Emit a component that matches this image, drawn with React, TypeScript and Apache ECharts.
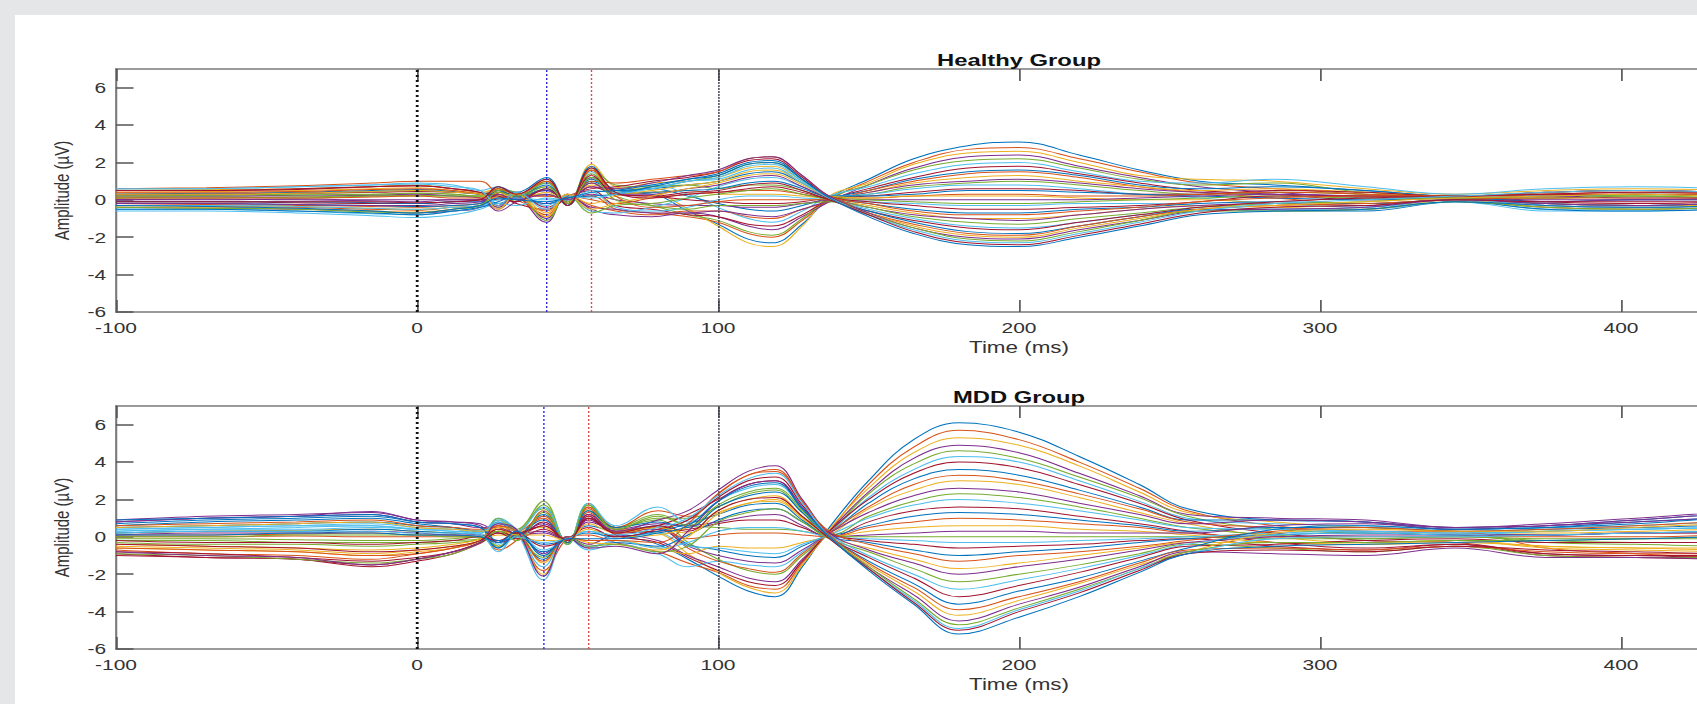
import React, { useEffect, useRef } from "react";
import * as echarts from "echarts";

// ---- Data ----
const TIME_HEALTHY = [-100,-70,-40,-15,0,12,21,27,33,43,50,58,66,78,90,100,110,118,128,137,150,165,183,200,220,240,260,285,315,345,375,405,440,500];
const TIME_MDD = [-100,-70,-40,-15,0,12,21,27,33,42,50,57,66,80,90,100,110,119,128,137,150,165,180,200,220,240,256,285,315,345,375,405,440,500];

const X_TICKS = [-100, 0, 100, 200, 300, 400];
const Y_TICKS = [-6, -4, -2, 0, 2, 4, 6];

const MARKERS_HEALTHY = [0, 43, 58, 100];
const MARKERS_MDD = [0, 42, 57, 100];

const HEALTHY = [
[0.3,0.35,0.4,0.5,0.55,0.45,0.3,0.5,0.1,0.6,-0.1,1.2,0.4,0.3,-0.6,-1.3,-2.1,-2.3,-1.3,0.1,1.1,2.2,2.9,3.1,2.4,1.6,1.0,0.8,0.5,0.2,0.4,0.5,0.4,0.3],
[-0.2,-0.25,-0.3,-0.35,-0.4,-0.3,-0.2,0.3,0.2,-0.8,0.2,0.2,-0.5,-0.7,-0.9,-1.2,-1.8,-2.0,-1.1,0.0,1.0,2.0,2.7,2.8,2.2,1.5,0.9,0.6,0.3,0.1,-0.2,-0.3,-0.2,-0.1],
[0.5,0.55,0.6,0.7,0.8,0.6,0.4,0.6,0.0,1.1,-0.3,1.9,0.7,0.5,-0.5,-1.4,-2.3,-2.5,-1.4,0.2,0.9,1.9,2.5,2.6,2.0,1.3,1.1,1.0,0.6,0.3,0.5,0.6,0.5,0.4],
[-0.4,-0.45,-0.5,-0.6,-0.7,-0.6,-0.4,0.5,0.3,-1.2,0.3,-0.5,-0.8,-0.9,-0.7,-0.9,-1.4,-1.6,-0.9,-0.1,0.8,1.7,2.3,2.4,1.8,1.2,0.7,0.4,0.1,0.0,-0.4,-0.5,-0.4,-0.3],
[0.1,0.15,0.1,0.2,0.25,0.2,0.1,-0.4,0.3,0.3,-0.1,0.9,0.2,-0.3,-0.8,-1.1,-1.7,-1.9,-1.0,0.1,0.8,1.6,2.1,2.2,1.7,1.1,0.8,0.9,0.4,0.2,0.3,0.2,0.1,0.1],
[0.6,0.6,0.7,0.8,0.9,0.8,0.5,0.7,0.2,0.9,-0.2,1.5,0.6,0.8,0.3,-0.4,-1.0,-1.2,-0.6,0.2,0.7,1.4,1.9,2.0,1.5,1.0,0.9,1.1,0.7,0.3,0.6,0.7,0.6,0.5],
[-0.1,-0.1,-0.15,-0.2,-0.2,-0.1,0.0,0.2,-0.2,-0.5,0.1,0.5,-0.3,-0.5,-0.8,-0.9,-1.3,-1.4,-0.8,0.0,0.6,1.2,1.7,1.8,1.4,0.9,0.5,0.3,0.0,0.1,-0.1,-0.2,-0.1,0.0],
[0.3,0.3,0.35,0.45,0.5,0.4,0.3,-0.2,0.1,0.5,-0.1,1.0,0.5,0.6,0.2,-0.2,-0.5,-0.6,-0.3,0.1,0.5,1.1,1.5,1.6,1.3,0.8,0.6,0.7,0.5,0.2,0.2,0.3,0.3,0.2],
[-0.3,-0.35,-0.4,-0.5,-0.55,-0.4,-0.3,0.4,0.2,-0.9,0.2,-0.3,-0.6,-0.8,-0.6,-0.6,-0.9,-1.0,-0.5,-0.1,0.5,1.0,1.4,1.5,1.2,0.7,0.4,0.1,-0.2,0.0,-0.3,-0.4,-0.3,-0.2],
[0.4,0.45,0.5,0.6,0.65,0.5,0.35,0.6,0.3,0.7,-0.2,1.6,0.3,0.4,0.5,0.3,0.3,0.3,0.2,0.1,0.4,0.9,1.2,1.3,1.0,0.7,0.5,0.6,0.4,0.2,0.4,0.5,0.4,0.3],
[0.0,0.05,0.0,-0.05,-0.1,0.0,0.0,-0.5,0.1,-0.2,0.0,0.3,0.0,-0.2,-0.3,-0.3,-0.4,-0.4,-0.2,0.0,0.4,0.8,1.0,1.1,0.9,0.6,0.4,0.3,0.2,0.1,0.0,0.0,0.1,0.0],
[0.2,0.2,0.25,0.3,0.35,0.3,0.2,0.3,-0.1,1.0,-0.2,1.4,0.4,0.7,0.8,0.6,0.8,0.8,0.5,0.1,0.3,0.7,0.9,1.0,0.8,0.5,0.3,0.4,0.3,0.1,0.2,0.3,0.2,0.2],
[-0.5,-0.5,-0.6,-0.75,-0.8,-0.6,-0.4,0.1,0.3,-0.3,0.2,-0.6,-0.7,-0.4,0.1,0.7,1.1,1.2,0.7,0.2,0.3,0.6,0.8,0.8,0.6,0.3,0.1,-0.2,-0.4,0.0,-0.5,-0.5,-0.4,-0.3],
[0.5,0.5,0.55,0.7,0.75,0.6,0.4,0.0,0.2,0.2,0.1,0.7,0.3,0.2,0.0,-0.1,-0.2,-0.2,-0.1,0.1,0.2,0.4,0.6,0.6,0.5,0.3,0.3,0.5,0.4,0.2,0.4,0.5,0.4,0.3],
[-0.1,-0.1,-0.1,-0.15,-0.2,-0.1,-0.1,0.5,0.2,0.8,-0.3,1.1,0.5,0.6,0.8,1.0,1.4,1.5,0.9,0.2,0.2,0.3,0.5,0.5,0.4,0.3,0.2,0.1,0.0,0.1,-0.1,0.0,0.0,-0.1],
[0.6,0.65,0.75,0.9,1.0,1.0,1.0,0.3,0.0,-0.6,0.2,0.0,-0.2,0.1,0.3,0.4,0.5,0.5,0.3,0.1,0.1,0.2,0.3,0.3,0.2,0.2,0.3,0.4,0.3,0.2,0.3,0.3,0.3,0.2],
[-0.3,-0.3,-0.35,-0.45,-0.5,-0.4,-0.3,0.4,0.0,0.4,-0.1,0.8,0.6,0.9,1.0,1.2,1.7,1.8,1.0,0.2,0.1,0.2,0.2,0.2,0.1,0.0,0.0,-0.2,-0.3,0.0,-0.2,-0.3,-0.3,-0.2],
[0.2,0.2,0.2,0.25,0.3,0.2,0.1,-0.4,0.3,-1.0,0.3,-0.4,-0.5,-0.7,-0.7,-0.6,-0.8,-0.9,-0.5,-0.1,0.0,0.0,0.0,0.0,0.0,0.1,0.2,0.3,0.2,0.1,0.2,0.1,0.1,0.1],
[0.1,0.1,0.15,0.2,0.2,0.2,0.2,0.6,0.3,0.9,-0.1,1.7,0.8,0.7,1.0,1.3,1.9,2.0,1.1,0.2,0.0,-0.1,-0.2,-0.2,-0.1,0.0,0.1,0.2,0.1,0.1,0.1,0.2,0.1,0.1],
[-0.6,-0.6,-0.7,-0.85,-0.95,-0.8,-0.5,-0.2,-0.3,0.1,0.0,0.4,-0.4,-0.6,-0.4,0.0,0.2,0.2,0.1,0.0,-0.1,-0.2,-0.3,-0.3,-0.2,-0.2,-0.3,-0.5,-0.5,-0.1,-0.6,-0.6,-0.5,-0.4],
[0.3,0.3,0.35,0.4,0.45,0.4,0.3,-0.3,0.4,-0.4,0.2,0.6,0.7,1.0,1.2,1.5,2.1,2.2,1.2,0.2,-0.1,-0.3,-0.5,-0.5,-0.4,-0.3,-0.1,0.2,0.2,0.2,0.3,0.3,0.2,0.2],
[-0.2,-0.2,-0.25,-0.3,-0.35,-0.3,-0.2,0.7,0.4,1.2,-0.3,1.8,0.5,0.4,0.5,0.6,0.9,1.0,0.6,0.1,-0.2,-0.5,-0.7,-0.7,-0.5,-0.4,-0.2,-0.1,-0.2,0.0,-0.2,-0.3,-0.2,-0.2],
[0.4,0.4,0.45,0.55,0.6,0.5,0.3,0.1,0.2,0.2,0.1,1.0,0.9,1.1,1.3,1.5,2.2,2.3,1.3,0.2,-0.2,-0.6,-0.8,-0.8,-0.6,-0.4,-0.1,0.1,0.2,0.2,0.3,0.4,0.3,0.3],
[-0.4,-0.4,-0.5,-0.6,-0.65,-0.5,-0.3,0.2,0.3,-0.7,0.3,-0.2,0.2,0.5,0.8,1.0,1.5,1.6,0.9,0.1,-0.3,-0.7,-1.0,-1.0,-0.8,-0.5,-0.3,-0.4,-0.5,0.0,-0.4,-0.5,-0.4,-0.3],
[0.0,0.0,0.05,0.0,0.0,0.0,0.0,-0.6,-0.1,0.5,0.0,0.9,0.3,0.3,0.6,0.8,1.2,1.3,0.7,0.1,-0.4,-0.8,-1.0,-1.1,-0.8,-0.5,-0.3,-0.2,-0.3,0.0,-0.1,0.0,0.0,0.0],
[0.2,0.25,0.3,0.3,0.35,0.3,0.2,0.5,0.4,-1.1,0.3,-0.7,-0.3,-0.2,0.1,0.3,0.5,0.6,0.3,0.0,-0.4,-0.9,-1.2,-1.3,-1.0,-0.7,-0.4,-0.2,-0.1,0.1,0.1,0.2,0.2,0.1],
[-0.3,-0.3,-0.35,-0.45,-0.5,-0.4,-0.3,0.0,0.1,0.0,0.0,0.5,0.4,0.6,1.0,1.2,1.8,1.9,1.0,0.1,-0.5,-1.0,-1.4,-1.5,-1.2,-0.8,-0.5,-0.5,-0.4,0.0,-0.3,-0.4,-0.3,-0.2],
[0.5,0.5,0.6,0.7,0.75,0.6,0.4,0.2,-0.1,0.6,-0.2,1.3,0.3,0.2,0.4,0.5,0.8,0.9,0.5,0.0,-0.6,-1.1,-1.5,-1.6,-1.2,-0.8,-0.4,-0.1,0.1,0.2,0.3,0.4,0.4,0.3],
[-0.5,-0.5,-0.6,-0.7,-0.8,-0.6,-0.4,-0.1,0.2,-0.2,0.1,0.2,0.3,0.7,1.1,1.4,2.0,2.1,1.1,0.1,-0.6,-1.2,-1.7,-1.8,-1.4,-0.9,-0.5,-0.6,-0.6,-0.1,-0.5,-0.6,-0.5,-0.4],
[0.1,0.1,0.1,0.15,0.2,0.1,0.1,0.6,0.3,1.0,-0.2,1.6,0.2,-0.4,-0.3,-0.1,0.0,0.0,0.0,0.0,-0.7,-1.3,-1.8,-1.9,-1.4,-0.9,-0.5,-0.3,-0.2,0.0,0.1,0.1,0.1,0.0],
[0.3,0.3,0.35,0.45,0.5,0.4,0.3,-0.5,0.3,-0.9,0.3,-0.5,-0.2,0.2,0.6,0.9,1.3,1.4,0.8,0.1,-0.7,-1.4,-1.9,-2.0,-1.5,-1.0,-0.5,-0.3,-0.1,0.1,0.2,0.3,0.2,0.2],
[-0.2,-0.2,-0.25,-0.3,-0.3,-0.2,-0.1,0.3,0.0,0.3,0.0,0.7,0.6,0.9,1.3,1.6,2.2,2.3,1.3,0.2,-0.7,-1.5,-2.0,-2.1,-1.6,-1.1,-0.6,-0.5,-0.4,0.0,-0.2,-0.3,-0.2,-0.2],
[-0.4,-0.45,-0.5,-0.65,-0.7,-0.5,-0.3,0.4,0.2,0.7,-0.2,1.2,0.0,-0.3,-0.5,-0.3,-0.3,-0.3,-0.2,-0.1,-0.8,-1.5,-2.1,-2.2,-1.7,-1.1,-0.6,-0.6,-0.5,-0.1,-0.4,-0.5,-0.4,-0.3],
[0.6,0.6,0.7,0.8,0.85,0.7,0.5,-0.3,0.4,-0.5,0.2,0.1,0.3,0.6,1.0,1.1,1.6,1.7,0.9,0.1,-0.8,-1.6,-2.2,-2.3,-1.8,-1.2,-0.6,-0.2,0.0,0.2,0.4,0.5,0.4,0.3],
[-0.1,-0.1,-0.1,-0.1,-0.15,-0.1,0.0,0.7,0.3,1.1,-0.3,1.7,0.4,0.1,0.3,0.4,0.6,0.7,0.4,0.0,-0.8,-1.7,-2.3,-2.4,-1.9,-1.3,-0.7,-0.4,-0.3,0.0,-0.1,-0.1,-0.1,0.0],
[-0.3,-0.35,-0.45,-0.6,-0.7,-0.5,-0.3,0.1,0.0,-0.1,0.1,0.4,0.5,0.8,1.1,1.3,1.9,2.0,1.1,0.1,-0.9,-1.8,-2.4,-2.5,-2.0,-1.4,-0.8,-0.6,-0.5,-0.1,-0.3,-0.4,-0.3,-0.2],
];

const MDD = [
[0.6,0.8,0.9,1.0,0.7,0.5,0.3,0.8,0.1,1.2,-0.2,1.0,0.2,-0.4,-1.2,-2.1,-2.9,-3.2,-1.6,0.5,3.0,5.2,6.1,5.6,4.3,2.8,1.5,0.9,0.8,0.5,0.6,0.9,1.2,0.9],
[-0.7,-0.9,-1.0,-1.2,-0.9,-0.6,-0.2,0.6,0.2,-1.8,-0.1,0.1,-0.3,-0.8,-1.4,-1.9,-2.6,-2.8,-1.4,0.3,2.8,4.8,5.7,5.2,4.0,2.6,1.4,0.6,0.3,0.3,-0.6,-0.9,-1.1,-0.8],
[0.2,0.3,0.35,0.4,0.3,0.2,0.1,-0.5,0.2,0.5,-0.3,1.6,0.4,0.2,-0.9,-1.9,-2.7,-3.0,-1.5,0.4,2.6,4.5,5.3,4.9,3.8,2.4,1.3,0.8,0.5,0.3,0.2,0.3,0.4,0.3],
[0.9,1.1,1.2,1.3,0.9,0.8,0.6,-0.3,0.3,-0.9,0.0,-0.4,0.1,-0.2,-1.0,-1.6,-2.2,-2.4,-1.2,0.3,2.4,4.2,4.9,4.5,3.4,2.2,1.2,1.0,0.9,0.5,0.7,1.0,1.3,1.0],
[-0.3,-0.4,-0.4,-0.5,-0.4,-0.3,-0.1,0.9,0.3,1.7,-0.4,1.8,0.5,0.9,-0.3,-1.2,-1.8,-2.0,-1.0,0.2,2.3,3.9,4.6,4.2,3.2,2.1,1.1,0.4,0.2,0.1,-0.3,-0.4,-0.5,-0.4],
[0.4,0.5,0.6,0.7,0.5,0.4,0.2,1.0,0.3,-2.3,0.0,-0.7,-0.4,-0.9,-1.6,-1.3,-1.5,-1.6,-0.8,0.2,2.1,3.6,4.3,4.0,3.0,1.9,1.0,0.7,0.6,0.4,0.5,0.6,0.8,0.6],
[-1.0,-1.1,-1.2,-1.5,-1.2,-0.8,-0.3,0.3,0.0,0.8,-0.2,1.2,0.1,-0.3,-1.1,-1.8,-2.4,-2.6,-1.3,0.3,2.0,3.4,4.0,3.7,2.8,1.8,0.9,0.2,-0.2,-0.3,-0.9,-1.0,-1.1,-0.9],
[0.7,0.9,1.0,1.1,0.8,0.7,0.5,-0.6,0.2,-0.4,-0.1,0.6,0.3,0.6,-0.4,-0.7,-1.0,-1.1,-0.5,0.2,1.8,3.1,3.6,3.3,2.5,1.6,0.9,0.9,0.8,0.4,0.5,0.8,1.0,0.8],
[0.1,0.1,0.15,0.2,0.1,0.1,0.0,0.5,-0.2,1.4,-0.3,1.5,0.4,0.5,-0.6,-1.3,-1.7,-1.9,-0.9,0.2,1.6,2.8,3.3,3.0,2.3,1.5,0.8,0.5,0.3,0.2,0.1,0.2,0.2,0.1],
[-0.5,-0.6,-0.7,-0.9,-0.7,-0.5,-0.2,0.4,0.3,-1.4,0.0,-0.2,-0.2,-0.6,-0.9,-0.5,-0.6,-0.6,-0.3,0.1,1.5,2.5,3.0,2.8,2.1,1.3,0.7,0.0,-0.3,-0.2,-0.6,-0.7,-0.8,-0.6],
[0.8,1.0,1.1,1.36,0.9,0.8,0.7,0.2,0.1,0.2,-0.2,0.9,0.3,0.4,-0.5,-1.0,-1.3,-1.4,-0.7,0.2,1.3,2.2,2.6,2.4,1.8,1.2,0.7,0.9,0.8,0.5,0.6,0.9,1.2,1.0],
[-0.2,-0.2,-0.3,-0.3,-0.3,-0.2,-0.1,1.0,0.4,1.9,-0.4,1.7,0.5,1.2,0.6,0.5,0.4,0.4,0.3,0.1,1.1,1.9,2.3,2.1,1.6,1.0,0.5,0.1,-0.1,0.0,-0.2,-0.3,-0.3,-0.2],
[0.3,0.4,0.5,0.6,0.4,0.3,0.2,-0.4,0.2,-0.7,-0.1,0.3,-0.1,0.2,-0.5,-0.6,-0.8,-0.9,-0.4,0.1,1.0,1.7,2.0,1.8,1.4,0.9,0.5,0.4,0.3,0.2,0.3,0.4,0.5,0.4],
[-0.9,-1.1,-1.2,-1.6,-1.3,-0.9,-0.35,0.2,0.1,0.6,-0.3,1.1,0.2,0.3,0.4,0.7,0.9,0.9,0.5,0.0,0.8,1.4,1.6,1.5,1.1,0.7,0.3,-0.3,-0.6,-0.4,-1.0,-1.1,-1.2,-1.0],
[0.5,0.6,0.7,0.8,0.6,0.5,0.3,0.7,0.3,-1.2,0.0,-0.5,-0.3,-0.5,0.1,0.9,1.4,1.5,0.8,0.1,0.6,1.1,1.3,1.2,0.9,0.6,0.3,0.5,0.5,0.3,0.4,0.5,0.6,0.5],
[0.0,0.0,0.05,0.0,0.0,0.0,0.0,-0.7,-0.2,1.0,-0.2,1.3,0.3,0.5,-0.1,0.1,0.2,0.2,0.1,0.0,0.5,0.8,1.0,0.9,0.7,0.5,0.2,0.0,0.0,0.0,0.0,0.0,0.1,0.0],
[-0.6,-0.7,-0.8,-1.0,-0.8,-0.6,-0.2,0.1,0.0,-0.2,-0.1,0.4,0.0,0.1,0.5,1.3,1.8,2.0,1.0,0.0,0.3,0.5,0.6,0.6,0.4,0.3,0.1,-0.3,-0.4,-0.2,-0.5,-0.6,-0.7,-0.6],
[0.8,1.0,1.1,1.2,0.8,0.7,0.5,0.5,0.2,0.3,-0.2,0.8,0.4,0.7,0.6,0.8,1.1,1.2,0.6,0.0,0.1,0.2,0.3,0.3,0.2,0.2,0.2,0.6,0.7,0.4,0.6,0.8,1.0,0.8],
[-0.1,-0.1,-0.15,-0.2,-0.2,-0.1,0.0,-0.5,0.2,1.5,-0.3,1.4,0.4,1.0,1.0,1.6,2.3,2.5,1.3,0.1,0.0,0.0,0.0,0.0,0.0,0.0,0.0,-0.1,-0.1,0.0,-0.1,-0.1,-0.1,-0.1],
[0.4,0.5,0.6,0.6,0.4,0.4,0.3,0.9,0.4,-1.6,0.0,-0.6,-0.2,-0.6,-0.3,0.3,0.5,0.5,0.3,0.0,-0.1,-0.2,-0.3,-0.3,-0.2,-0.1,0.0,0.2,0.3,0.2,0.3,0.4,0.5,0.4],
[-0.8,-0.9,-1.1,-1.3,-1.1,-0.8,-0.3,0.2,-0.1,0.4,-0.2,1.0,0.2,0.6,1.2,2.0,2.8,3.0,1.5,0.2,-0.2,-0.4,-0.6,-0.5,-0.4,-0.2,-0.1,-0.5,-0.7,-0.4,-0.9,-1.0,-1.0,-0.8],
[0.2,0.3,0.3,0.4,0.3,0.2,0.1,-0.6,0.1,-0.8,-0.1,0.2,0.0,0.3,0.7,1.2,1.7,1.8,0.9,0.0,-0.3,-0.7,-1.0,-0.8,-0.6,-0.3,-0.1,0.1,0.2,0.1,0.1,0.2,0.3,0.2],
[0.6,0.7,0.8,0.9,0.6,0.5,0.4,0.6,0.3,1.1,-0.3,1.6,0.5,1.4,1.1,2.3,3.3,3.5,1.9,0.3,-0.4,-0.9,-1.3,-1.0,-0.8,-0.5,-0.2,0.3,0.5,0.3,0.4,0.6,0.8,0.6],
[-0.4,-0.5,-0.6,-0.7,-0.6,-0.4,-0.1,0.5,0.3,-2.0,0.0,-0.3,-0.4,-0.7,0.0,1.4,2.0,2.2,1.1,0.0,-0.6,-1.2,-1.7,-1.4,-1.0,-0.6,-0.3,-0.3,-0.4,-0.3,-0.5,-0.6,-0.6,-0.5],
[0.1,0.2,0.2,0.3,0.2,0.1,0.1,-0.3,0.0,0.7,-0.2,1.2,0.3,0.9,1.4,2.5,3.5,3.8,2.0,0.2,-0.7,-1.4,-2.0,-1.6,-1.2,-0.7,-0.3,0.0,0.1,0.1,0.1,0.2,0.2,0.1],
[-0.9,-1.0,-1.2,-1.4,-1.2,-0.9,-0.3,0.3,0.1,-1.1,0.0,-0.5,-0.4,-0.8,-0.5,0.8,1.3,1.5,0.8,-0.1,-0.8,-1.7,-2.4,-2.0,-1.5,-0.9,-0.4,-0.6,-0.8,-0.5,-1.0,-1.1,-1.1,-0.9],
[0.3,0.4,0.4,0.5,0.4,0.3,0.2,0.8,0.3,1.6,-0.4,1.8,0.6,1.6,0.8,1.9,2.6,2.8,1.5,0.1,-1.0,-2.0,-2.8,-2.3,-1.7,-1.0,-0.4,0.1,0.2,0.1,0.3,0.4,0.5,0.4],
[-0.2,-0.3,-0.3,-0.4,-0.3,-0.2,0.0,-0.2,0.2,-0.5,-0.1,0.5,0.0,0.4,0.9,2.1,3.0,3.2,1.7,0.0,-1.1,-2.2,-3.2,-2.6,-1.9,-1.1,-0.5,-0.4,-0.2,-0.1,-0.3,-0.3,-0.3,-0.2],
[0.9,1.0,1.1,1.2,0.8,0.7,0.5,-0.2,0.0,0.9,-0.3,1.4,0.5,0.8,0.5,1.6,2.2,2.4,1.3,0.0,-1.3,-2.5,-3.6,-2.9,-2.2,-1.3,-0.6,0.4,0.6,0.4,0.5,0.7,1.0,0.8],
[-0.6,-0.7,-0.8,-1.0,-0.9,-0.6,-0.2,0.6,0.3,-1.3,0.0,-0.2,-0.2,-0.3,0.7,2.3,3.3,3.6,1.9,0.1,-1.4,-2.7,-3.9,-3.2,-2.4,-1.4,-0.7,-0.6,-0.7,-0.5,-0.8,-0.9,-0.9,-0.7],
[0.5,0.6,0.7,0.8,0.5,0.4,0.3,0.4,0.1,0.1,-0.2,0.7,0.2,0.5,0.2,1.2,1.8,1.9,1.0,-0.1,-1.5,-2.9,-4.2,-3.4,-2.5,-1.5,-0.8,0.2,0.4,0.3,0.3,0.5,0.7,0.5],
[-0.8,-1.0,-1.1,-1.5,-1.2,-0.8,-0.3,0.7,0.4,-2.1,0.0,-0.6,-0.5,-0.9,0.3,1.9,2.8,3.0,1.6,0.0,-1.6,-3.1,-4.5,-3.6,-2.7,-1.6,-0.8,-0.9,-1.0,-0.6,-1.1,-1.1,-1.2,-1.0],
[0.0,0.0,0.1,0.1,0.1,0.0,0.0,0.3,-0.2,1.3,-0.4,1.7,0.4,1.1,0.6,1.7,2.4,2.6,1.4,0.0,-1.6,-3.3,-4.7,-3.8,-2.8,-1.7,-0.8,-0.3,-0.3,-0.2,-0.2,-0.1,0.0,0.0],
[0.2,0.3,0.3,0.3,0.2,0.2,0.1,-0.8,0.0,-0.3,-0.1,0.3,0.1,0.5,1.0,2.2,3.1,3.4,1.8,0.0,-1.7,-3.4,-4.9,-3.9,-2.9,-1.7,-0.9,-0.1,0.0,0.0,0.1,0.2,0.3,0.2],
[-0.4,-0.5,-0.6,-0.8,-0.7,-0.5,-0.2,0.4,0.2,0.6,-0.2,1.0,0.2,0.6,0.3,1.4,2.0,2.1,1.1,-0.1,-1.7,-3.5,-5.0,-4.0,-3.0,-1.8,-0.9,-0.7,-0.8,-0.5,-0.7,-0.8,-0.9,-0.7],
[0.1,0.1,0.2,0.2,0.1,0.1,0.0,-0.3,0.3,-1.0,-0.1,-0.1,-0.1,0.2,0.6,1.9,2.7,2.9,1.5,0.0,-1.8,-3.6,-5.2,-4.3,-3.2,-1.9,-0.9,-0.5,-0.4,-0.3,-0.2,-0.1,0.0,0.0],
];

// ---- Styling ----
const PALETTE = ["#0072BD", "#D95319", "#EDB120", "#7E2F8E", "#77AC30", "#4DBEEE", "#A2142F"];
const MARKER_STYLES = [
  { color: "#111111", width: 2, type: [2, 3] },
  { color: "#2b2bd6", width: 1, type: [2, 2] },
  { color: "#e04848", width: 1, type: [2, 2] },
  { color: "#3a3a4a", width: 1, type: [2, 1] },
];
const FONT = '"Liberation Sans", Arial, Helvetica, sans-serif';
const AXIS_COLOR = "#7a7a7a";
const FRAME_GRAY = "#e5e6e8";

// The reference figure is stretched horizontally; the chart is drawn in an
// inner coordinate space and stretched by STRETCH with a CSS transform.
const STRETCH = 1.4;
const INNER_WIDTH = 1400;
const GRID_LEFT = 116 / STRETCH;
const GRID_WIDTH = 1806 / STRETCH;
const GRID_HEIGHT = 243;
const PANEL_TOPS = [69, 406];

function buildOption() {
  const grids = PANEL_TOPS.map((top) => ({ left: GRID_LEFT, top, width: GRID_WIDTH, height: GRID_HEIGHT }));
  const xAxes: any[] = [];
  const yAxes: any[] = [];
  PANEL_TOPS.forEach((_, i) => {
    xAxes.push({
      gridIndex: i, type: "value", min: -100, max: 500, interval: 100, position: "bottom",
      axisLine: { show: true, onZero: false, lineStyle: { color: AXIS_COLOR, width: 1.5 } },
      axisTick: { show: true, inside: true, length: 12, customValues: X_TICKS, lineStyle: { color: "#555", width: 1.2 } },
      axisLabel: { customValues: X_TICKS, fontSize: 15, color: "#333", margin: 8, fontFamily: FONT },
      splitLine: { show: false },
      name: "Time (ms)", nameLocation: "middle", nameGap: 27,
      nameTextStyle: { fontSize: 16, color: "#333", fontFamily: FONT },
    });
    xAxes.push({
      gridIndex: i, type: "value", min: -100, max: 500, interval: 100, position: "top",
      axisLine: { show: true, onZero: false, lineStyle: { color: AXIS_COLOR, width: 1.5 } },
      axisTick: { show: true, inside: true, length: 12, customValues: X_TICKS, lineStyle: { color: "#555", width: 1.2 } },
      axisLabel: { show: false },
      splitLine: { show: false },
    });
    yAxes.push({
      gridIndex: i, type: "value", min: -6, max: 7, interval: 2,
      axisLine: { show: true, onZero: false, lineStyle: { color: AXIS_COLOR, width: 1.5 } },
      axisTick: { show: true, inside: true, length: 12.5, customValues: Y_TICKS, lineStyle: { color: "#555", width: 1.5 } },
      axisLabel: { customValues: Y_TICKS, fontSize: 15, color: "#333", margin: 7, fontFamily: FONT },
      splitLine: { show: false },
      name: "Amplitude (µV)", nameLocation: "middle", nameGap: 29, nameRotate: 90,
      nameTextStyle: { fontSize: 15, color: "#333", fontFamily: FONT },
    });
  });

  const series: any[] = [];
  const panels = [
    { rows: HEALTHY, times: TIME_HEALTHY, markers: MARKERS_HEALTHY },
    { rows: MDD, times: TIME_MDD, markers: MARKERS_MDD },
  ];
  panels.forEach((p, i) => {
    p.rows.forEach((row, k) => {
      series.push({
        type: "line", xAxisIndex: i * 2, yAxisIndex: i, silent: true,
        data: row.map((v, j) => [p.times[j], v]),
        smooth: 0.4, showSymbol: false, symbol: "none",
        lineStyle: { width: 1, color: PALETTE[k % PALETTE.length] },
        z: 2,
      });
    });
    series.push({
      type: "line", xAxisIndex: i * 2, yAxisIndex: i, silent: true, data: [], z: 5,
      markLine: {
        symbol: ["none", "none"], silent: true, animation: false, label: { show: false },
        data: p.markers.map((t, k) => ({ xAxis: t, lineStyle: MARKER_STYLES[k] })),
      },
    });
  });

  const titles = ["Healthy Group", "MDD Group"];
  const titleY = [60, 397];
  const titleX = GRID_LEFT + GRID_WIDTH / 2;
  const graphic: any[] = [
    // gray frame along the top and left edges only
    { type: "rect", z: -10, silent: true, shape: { x: 0, y: 0, width: INNER_WIDTH, height: 15 }, style: { fill: FRAME_GRAY } },
    { type: "rect", z: -10, silent: true, shape: { x: 0, y: 0, width: 15 / STRETCH, height: 704 }, style: { fill: FRAME_GRAY } },
    ...titles.map((t, i) => ({
      type: "text", x: titleX, y: titleY[i], z: 10, silent: true,
      style: { text: t, font: `bold 17px ${FONT}`, fill: "#111", align: "center", verticalAlign: "middle", textAlign: "center", textVerticalAlign: "middle" },
    })),
  ];

  return {
    animation: false,
    backgroundColor: "#ffffff",
    graphic,
    grid: grids,
    xAxis: xAxes,
    yAxis: yAxes,
    series,
  };
}

export default function App() {
  const ref = useRef<HTMLDivElement>(null);
  useEffect(() => {
    if (!ref.current) return;
    const chart = echarts.init(ref.current, undefined, { renderer: "svg" });
    chart.setOption(buildOption() as any);
    return () => chart.dispose();
  }, []);
  return (
    <>
      <style>{"html,body{margin:0;padding:0;overflow:hidden;background:#ffffff;}"}</style>
      <div style={{ position: "fixed", left: 0, top: 0, width: 1697, height: 704, overflow: "hidden", background: "#ffffff" }}>
        <div
          ref={ref}
          style={{ width: INNER_WIDTH, height: 704, transform: `scaleX(${STRETCH})`, transformOrigin: "0 0" }}
        />
      </div>
    </>
  );
}
